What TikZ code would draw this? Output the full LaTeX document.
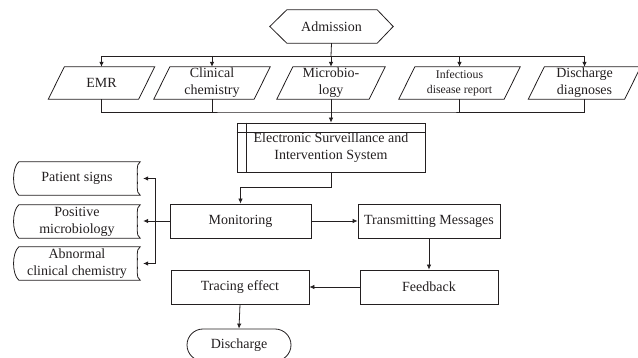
\documentclass[tikz,border=0pt]{standalone}
\usepackage{fontspec}
\setmainfont{Liberation Serif}
\usetikzlibrary{arrows.meta,calc}
\definecolor{ink}{RGB}{35,31,32}
\tikzset{
  every node/.style={font=\fontsize{14}{17}\selectfont, text=ink, align=center, inner sep=0pt},
  ln/.style={draw=ink, line width=0.8pt},
  arr/.style={ln, -{Latex[length=5pt,width=4.5pt]}},
  proc/.style={draw=ink, line width=0.8pt, minimum height=34pt},
  para/.style={minimum height=32pt},
  tapebox/.style={minimum width=126pt, minimum height=33pt},
  small/.style={font=\fontsize{11.8}{15}\selectfont},
}
\newcommand\parashape[1]{\draw[ln] ([xshift=8pt]#1.north west) -- ([xshift=8pt]#1.north east) -- ([xshift=-8pt]#1.south east) -- ([xshift=-8pt]#1.south west) -- cycle;}
\newcommand\tapeshape[1]{\draw[ln] ([xshift=5pt]#1.north west) -- (#1.north east) .. controls +(-5,3) and +(1,-5) .. ([xshift=-3pt]#1.east) .. controls +(1,5) and +(-5,-3) .. (#1.south east) -- ([xshift=5pt]#1.south west) .. controls +(-7,-6) and +(-7,6) .. ([xshift=5pt]#1.north west) -- cycle;}
\begin{document}
\begin{tikzpicture}[x=1pt,y=-1pt]
\useasboundingbox (0,0) rectangle (638,358);
% Admission
\node[minimum width=123pt, minimum height=33pt] (adm) at (331.5,26.5) {Admission};
\draw[ln] ([xshift=17pt]adm.north west) -- ([xshift=-16pt]adm.north east) -- (adm.east) -- ([xshift=-16pt]adm.south east) -- ([xshift=17pt]adm.south west) -- (adm.west) -- cycle;
% data parallelograms
\node[para, minimum width=90pt] (emr) at (101.5,83) {EMR};
\node[para, minimum width=100pt] (clin) at (212,83) {Clinical\\chemistry};
\node[para, minimum width=92pt] (mic) at (331,83) {Microbio-\\logy};
\node[para, minimum width=105pt, small] (inf) at (459.5,83) {Infectious\\disease report};
\node[para, minimum width=96pt] (dd) at (584.5,83) {Discharge\\diagnoses};
\parashape{emr}\parashape{clin}\parashape{mic}\parashape{inf}\parashape{dd}
% ESIS
\node[draw=ink, line width=0.8pt, minimum width=188pt, minimum height=49pt] (esis) at (331,147.5) {Electronic Surveillance and\\Intervention System};
\draw[ln] ([xshift=10pt]esis.north west) -- ([xshift=10pt]esis.south west);
\draw[ln] ([yshift=-10pt]esis.north west) -- ([yshift=-10pt]esis.north east);
% process boxes
\node[proc, minimum width=141pt] (mon) at (240.5,221) {Monitoring};
\node[proc, minimum width=142pt] (tm) at (429,221) {Transmitting Messages};
\node[proc, minimum width=138pt] (fb) at (429,287) {Feedback};
\node[proc, minimum width=138pt] (tr) at (240,287) {Tracing effect};
\node[draw=ink, line width=0.8pt, minimum width=104pt, minimum height=32pt, rounded corners=16pt] (dis) at (239,345) {Discharge};
% tapes
\node[tapebox] (ps) at (77,178.5) {Patient signs};
\node[tapebox] (pm) at (77,221.5) {Positive\\microbiology};
\node[tapebox] (ac) at (77,263.5) {Abnormal\\clinical chemistry};
\tapeshape{ps}\tapeshape{pm}\tapeshape{ac}
% top bus
\coordinate (b1) at (331,56);
\draw[ln] (adm.south) -- (b1);
\draw[arr] (b1) -| (emr.north);
\draw[arr] (b1) -| (dd.north);
\draw[arr] (b1 -| clin.north) -- (clin.north);
\draw[arr] (b1) -- (mic.north);
\draw[arr] (b1 -| inf.north) -- (inf.north);
% bottom bus
\coordinate (b2) at (331,112);
\draw[ln] (emr.south) |- (b2) -| (dd.south);
\draw[ln] (clin.south) -- (clin.south |- b2);
\draw[ln] (inf.south) -- (inf.south |- b2);
\draw[arr] (mic.south) -- (esis.north);
% flow
\draw[arr] (esis.south) -- ++(0,15) -| (mon.north);
\draw[arr] (mon.east) -- (tm.west);
\draw[arr] (tm.south) -- (fb.north);
\draw[arr] (fb.west) -- (tr.east);
\draw[arr] (tr.south) -- (dis.north);
% monitoring outputs
\coordinate (b3) at (155,221);
\draw[arr, shorten >=3pt] (mon.west |- b3) -- (pm.east |- b3);
\draw[arr, shorten >=3pt] (b3) |- (ps.east);
\draw[arr, shorten >=3pt] (b3) |- (ac.east);
\end{tikzpicture}
\end{document}
